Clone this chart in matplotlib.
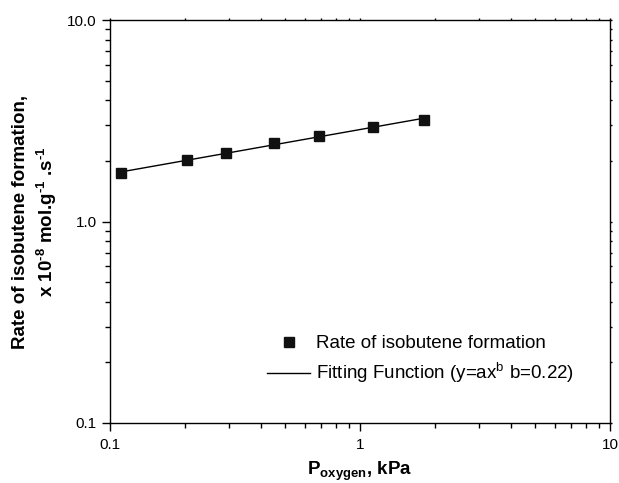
import numpy as np
import matplotlib
matplotlib.use("Agg")
import matplotlib.pyplot as plt
from matplotlib.ticker import FixedLocator, FixedFormatter, LogLocator, NullFormatter

plt.rcParams['font.family'] = ['Liberation Sans', 'DejaVu Sans']
plt.rcParams['mathtext.fontset'] = 'custom'
plt.rcParams['mathtext.rm'] = 'Liberation Sans'
plt.rcParams['mathtext.bf'] = 'Liberation Sans:bold'

p_oxygen = [0.111, 0.203, 0.291, 0.453, 0.686, 1.13, 1.81]
rate = [1.75, 2.02, 2.20, 2.44, 2.66, 2.94, 3.19]
fit_a = 2.86
fit_b = 0.22
xticks = [0.1, 1, 10]
xticklabels = ["0.1", "1", "10"]
yticks = [0.1, 1, 10]
yticklabels = ["0.1", "1.0", "10.0"]

fig = plt.figure(figsize=(6.19, 4.83), dpi=100)
ax = fig.add_axes([110/619, 1-423/483, 500/619, 403/483])

xf = np.logspace(np.log10(p_oxygen[0]), np.log10(p_oxygen[-1]), 100)
ax.plot(p_oxygen, rate, 's', color='#111111', ms=6.5, label='Rate of isobutene formation', zorder=3)
ax.plot(xf, fit_a * xf**fit_b, '-', color='black', lw=1.0,
        label='Fitting Function (y=ax$^{\\mathregular{b}}$ b=0.22)')

ax.set_xscale('log')
ax.set_yscale('log')
ax.set_xlim(0.1, 10)
ax.set_ylim(0.1, 10)
ax.xaxis.set_major_locator(FixedLocator(xticks))
ax.xaxis.set_major_formatter(FixedFormatter(xticklabels))
ax.yaxis.set_major_locator(FixedLocator(yticks))
ax.yaxis.set_major_formatter(FixedFormatter(yticklabels))
ax.xaxis.set_minor_locator(LogLocator(base=10, subs=np.arange(2, 10)))
ax.yaxis.set_minor_locator(LogLocator(base=10, subs=np.arange(2, 10)))
ax.xaxis.set_minor_formatter(NullFormatter())
ax.yaxis.set_minor_formatter(NullFormatter())
ax.tick_params(which='major', direction='out', length=6, width=1, labelsize=11,
               colors='black', top=True, right=True)
ax.tick_params(which='minor', direction='out', length=3.5, width=1, top=True, right=True)
ax.tick_params(axis='x', pad=5)
# tiny ticks on top/right
for t in ax.xaxis.get_major_ticks() + ax.xaxis.get_minor_ticks():
    t.tick2line.set_markersize(1.5)
for t in ax.yaxis.get_major_ticks() + ax.yaxis.get_minor_ticks():
    t.tick2line.set_markersize(1.5)
for s in ax.spines.values():
    s.set_linewidth(1.0)

ax.set_xlabel('P$_{\\mathbf{oxygen}}$, kPa', fontsize=13.5, fontweight='bold', labelpad=5)
ax.set_ylabel('Rate of isobutene formation,\nx 10$^{\\mathbf{\u20108}}$ mol.g$^{\\mathbf{\u20101}}$ .s$^{\\mathbf{\u20101}}$',
              fontsize=13.5, fontweight='bold', labelpad=6, linespacing=1.25)

ax.legend(loc='upper left', bbox_to_anchor=(267/619, 1-335/483), bbox_transform=fig.transFigure,
          frameon=False, fontsize=13.5, borderpad=0, borderaxespad=0,
          handlelength=2.3, handletextpad=0.3, labelspacing=0.45)

fig.savefig('out.png', dpi=100)
